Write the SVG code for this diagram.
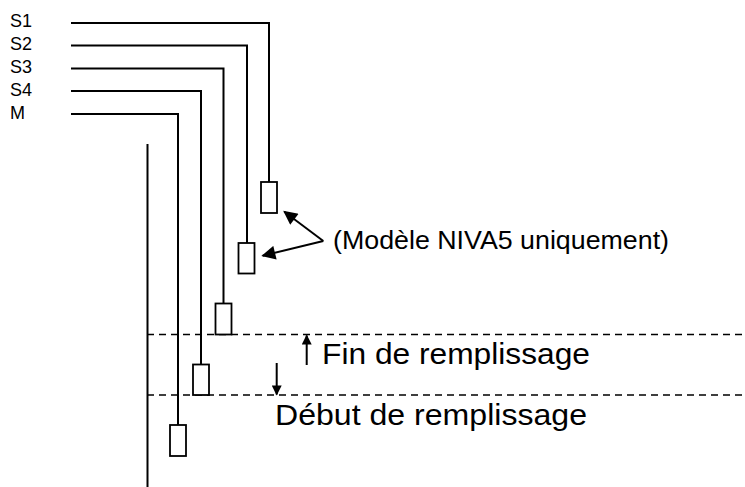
<svg xmlns="http://www.w3.org/2000/svg" width="745" height="487" viewBox="0 0 745 487">
<style>
.ln{fill:none;stroke:#000;stroke-width:2}
.dash{fill:none;stroke:#000;stroke-width:1.5;stroke-dasharray:7 5}
.box{fill:#fff;stroke:#000;stroke-width:1.8}
.lbl{font-family:"Liberation Sans",Arial,sans-serif;font-size:18px;fill:#000}
.big{font-family:"Liberation Sans",Arial,sans-serif;font-size:29px;fill:#000}
.mid{font-family:"Liberation Sans",Arial,sans-serif;font-size:26.5px;fill:#000}
</style>
<defs>
<marker id="ah" viewBox="0 0 10 10" refX="9" refY="5" markerWidth="9" markerHeight="7" markerUnits="strokeWidth" orient="auto">
<path d="M0,0 L10,5 L0,10 Z" fill="#000"/>
</marker>
<marker id="ahs" viewBox="0 0 10 10" refX="9" refY="5" markerWidth="6" markerHeight="5" markerUnits="strokeWidth" orient="auto">
<path d="M0,0 L10,5 L0,10 Z" fill="#000"/>
</marker>
</defs>
<g id="labels">
<text class="lbl" x="10" y="27">S1</text>
<text class="lbl" x="10" y="50">S2</text>
<text class="lbl" x="10" y="73">S3</text>
<text class="lbl" x="10" y="96">S4</text>
<text class="lbl" x="10" y="119">M</text>
</g>
<g id="connectors">
<polyline class="ln" points="71,23 269,23 269,182"/>
<polyline class="ln" points="71,45.5 247,45.5 247,243"/>
<polyline class="ln" points="71,68.5 223.5,68.5 223.5,303.5"/>
<polyline class="ln" points="71,91 201,91 201,364.5"/>
<polyline class="ln" points="71,114 178,114 178,425"/>
<line class="ln" x1="147.5" y1="144" x2="147.5" y2="487"/>
<line class="dash" x1="147" y1="334.5" x2="745" y2="334.5"/>
<line class="dash" x1="147" y1="395" x2="745" y2="395"/>
<line class="ln" x1="323.3" y1="241" x2="284.3" y2="211.7" marker-end="url(#ah)"/>
<line class="ln" x1="323.3" y1="241" x2="262.7" y2="255.7" marker-end="url(#ah)"/>
<line class="ln" x1="306.7" y1="365" x2="306.7" y2="335.5" marker-end="url(#ahs)"/>
<line class="ln" x1="276.7" y1="363" x2="276.7" y2="394.5" marker-end="url(#ahs)"/>
</g>
<g id="sensor-S1"><rect class="box" x="261" y="182" width="16" height="31"/></g>
<g id="sensor-S2"><rect class="box" x="238.5" y="243" width="16" height="30.5"/></g>
<g id="sensor-S3"><rect class="box" x="215.5" y="303.5" width="16" height="31"/></g>
<g id="sensor-S4"><rect class="box" x="193" y="364.5" width="16" height="30.5"/></g>
<g id="sensor-M"><rect class="box" x="170" y="425" width="16" height="31"/></g>
<g id="notes">
<text class="mid" x="333" y="249" textLength="336" lengthAdjust="spacingAndGlyphs">(Modèle NIVA5 uniquement)</text>
<text class="big" x="322" y="363.5" textLength="268" lengthAdjust="spacingAndGlyphs">Fin de remplissage</text>
<text class="big" x="275" y="424.5" textLength="312" lengthAdjust="spacingAndGlyphs">Début de remplissage</text>
</g>
</svg>
